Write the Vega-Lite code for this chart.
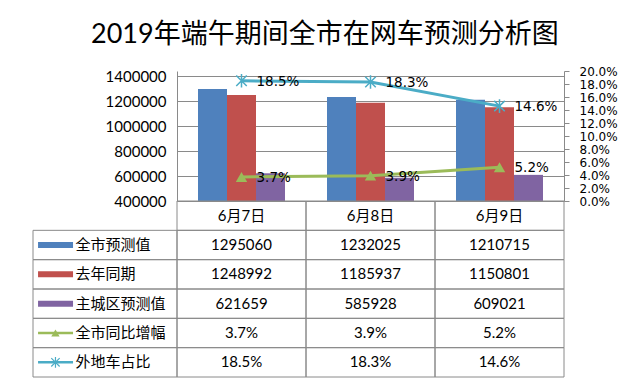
{
  "$schema": "https://vega.github.io/schema/vega-lite/v6.json",
  "background": "white",
  "padding": {"left": 32, "top": 21, "right": 5, "bottom": 5},
  "title": {"text": "2019年端午期间全市在网车预测分析图", "font": "Lato, Noto Sans CJK SC", "fontSize": 27, "fontWeight": "normal", "color": "#000000", "anchor": "middle", "frame": "bounds", "offset": 16},
  "config": {"view": {"stroke": null}, "font": "Lato"},
  "datasets": {
    "d": [
      {"date": "6月7日", "series": "全市预测值", "value": 1295060},
      {"date": "6月8日", "series": "全市预测值", "value": 1232025},
      {"date": "6月9日", "series": "全市预测值", "value": 1210715},
      {"date": "6月7日", "series": "去年同期", "value": 1248992},
      {"date": "6月8日", "series": "去年同期", "value": 1185937},
      {"date": "6月9日", "series": "去年同期", "value": 1150801},
      {"date": "6月7日", "series": "主城区预测值", "value": 621659},
      {"date": "6月8日", "series": "主城区预测值", "value": 585928},
      {"date": "6月9日", "series": "主城区预测值", "value": 609021},
      {"date": "6月7日", "series": "全市同比增幅", "value": 0.037},
      {"date": "6月8日", "series": "全市同比增幅", "value": 0.039},
      {"date": "6月9日", "series": "全市同比增幅", "value": 0.052},
      {"date": "6月7日", "series": "外地车占比", "value": 0.185},
      {"date": "6月8日", "series": "外地车占比", "value": 0.183},
      {"date": "6月9日", "series": "外地车占比", "value": 0.146}
    ],
    "dates": [{"date": "6月7日"}, {"date": "6月8日"}, {"date": "6月9日"}]
  },
  "spacing": 0,
  "bounds": "flush",
  "vconcat": [
    {
      "width": 387,
      "height": 130,
      "data": {"name": "d"},
      "layer": [
        {
          "transform": [{"filter": {"field": "series", "oneOf": ["全市预测值", "去年同期", "主城区预测值"]}}],
          "mark": {"type": "bar"},
          "encoding": {
            "x": {"field": "date", "type": "nominal", "scale": {"paddingInner": 0.3256, "paddingOuter": 0.1628}, "axis": null},
            "xOffset": {"field": "series", "type": "nominal", "scale": {"domain": ["全市预测值", "去年同期", "主城区预测值"], "paddingInner": 0, "paddingOuter": 0}},
            "y": {"field": "value", "type": "quantitative", "scale": {"domain": [400000, 1440000], "nice": false, "zero": false},
              "axis": {"orient": "left", "values": [400000, 600000, 800000, 1000000, 1200000, 1400000], "format": "d", "grid": true, "gridColor": "#8a8a8a", "domainColor": "#8a8a8a", "ticks": false, "labelPadding": 11, "labelFont": "Lato", "labelFontSize": 15, "labelColor": "#000000", "labelOverlap": false, "labelFlush": false, "title": null}},
            "y2": {"datum": 400000},
            "color": {"field": "series", "type": "nominal", "scale": {"domain": ["全市预测值", "去年同期", "主城区预测值", "全市同比增幅", "外地车占比"], "range": ["#4F81BD", "#C0504D", "#8064A2", "#9BBB59", "#4BACC6"]}, "legend": null}
          }
        },
        {
          "transform": [{"filter": {"field": "series", "oneOf": ["全市同比增幅", "外地车占比"]}}],
          "encoding": {
            "x": {"field": "date", "type": "nominal", "axis": null},
            "y": {"field": "value", "type": "quantitative", "scale": {"domain": [0, 0.2], "nice": false},
              "axis": {"orient": "right", "values": [0, 0.02, 0.04, 0.06, 0.08, 0.1, 0.12, 0.14, 0.16, 0.18, 0.2], "format": ".1%", "grid": false, "domainColor": "#8a8a8a", "tickColor": "#8a8a8a", "tickSize": 5, "labelPadding": 10, "labelFont": "DejaVu Sans", "labelFontSize": 12, "labelColor": "#000000", "labelOverlap": false, "labelFlush": false, "title": null}},
            "color": {"field": "series", "type": "nominal", "scale": {"domain": ["全市预测值", "去年同期", "主城区预测值", "全市同比增幅", "外地车占比"], "range": ["#4F81BD", "#C0504D", "#8064A2", "#9BBB59", "#4BACC6"]}, "legend": null}
          },
          "layer": [
            {"mark": {"type": "line", "strokeWidth": 3}},
            {"transform": [{"filter": {"field": "series", "equal": "全市同比增幅"}}], "mark": {"type": "point", "shape": "triangle-up", "filled": true, "size": 130, "opacity": 1}},
            {"transform": [{"filter": {"field": "series", "equal": "外地车占比"}}], "mark": {"type": "point", "shape": "M-1,-1L1,1M-1,1L1,-1M0,-1.3L0,1.3", "filled": false, "size": 110, "strokeWidth": 1.5, "opacity": 1}},
            {"mark": {"type": "text", "align": "left", "baseline": "middle", "dx": 15, "dy": 1, "font": "DejaVu Sans", "fontSize": 13.5}, "encoding": {"text": {"field": "value", "type": "quantitative", "format": ".1%"}, "color": {"value": "#000000"}}}
          ]
        }
      ],
      "resolve": {"scale": {"y": "independent"}}
    },
    {
      "width": 387,
      "height": 176,
      "layer": [
        {
          "layer": [
            {
              "data": {"name": "d"},
              "encoding": {
                "x": {"field": "date", "type": "nominal", "scale": {"paddingInner": 0, "paddingOuter": 0}, "axis": null},
                "y": {"field": "series", "type": "nominal", "scale": {"domain": ["日期", "全市预测值", "去年同期", "主城区预测值", "全市同比增幅", "外地车占比"], "paddingInner": 0, "paddingOuter": 0}, "axis": null}
              },
              "layer": [
                {"mark": {"type": "rect", "fillOpacity": 0, "stroke": "#8a8a8a", "strokeWidth": 1}},
                {"transform": [{"filter": {"field": "series", "oneOf": ["全市预测值", "去年同期", "主城区预测值"]}}], "mark": {"type": "text", "font": "Lato, Noto Sans CJK SC", "fontSize": 15, "color": "#000000"}, "encoding": {"text": {"field": "value", "type": "quantitative", "format": "d"}}},
                {"transform": [{"filter": {"field": "series", "oneOf": ["全市同比增幅", "外地车占比"]}}], "mark": {"type": "text", "font": "Lato, Noto Sans CJK SC", "fontSize": 15, "color": "#000000"}, "encoding": {"text": {"field": "value", "type": "quantitative", "format": ".1%"}}}
              ]
            },
            {
              "data": {"name": "dates"},
              "encoding": {
                "x": {"field": "date", "type": "nominal", "axis": null},
                "y": {"datum": "日期", "type": "nominal", "axis": null}
              },
              "layer": [
                {"mark": {"type": "rect", "fillOpacity": 0, "stroke": "#8a8a8a", "strokeWidth": 1}},
                {"mark": {"type": "text", "font": "Lato, Noto Sans CJK SC", "fontSize": 15, "color": "#000000"}, "encoding": {"text": {"field": "date", "type": "nominal"}}}
              ]
            }
          ]
        },
        {
          "data": {"name": "d"},
          "transform": [{"filter": {"field": "date", "equal": "6月7日"}}],
          "encoding": {
            "y": {"field": "series", "type": "nominal", "axis": null},
            "color": {"field": "series", "type": "nominal", "scale": {"domain": ["全市预测值", "去年同期", "主城区预测值", "全市同比增幅", "外地车占比"], "range": ["#4F81BD", "#C0504D", "#8064A2", "#9BBB59", "#4BACC6"]}, "legend": null}
          },
          "layer": [
            {"mark": {"type": "rect", "fillOpacity": 0, "stroke": "#8a8a8a", "strokeWidth": 1},
             "encoding": {"x": {"datum": 0, "type": "quantitative", "scale": {"domain": [0, 1], "range": [-144, 0], "nice": false, "zero": false}, "axis": null}, "x2": {"datum": 1}, "color": {"value": "#8a8a8a"}}},
            {"transform": [{"filter": {"field": "series", "oneOf": ["全市预测值", "去年同期", "主城区预测值"]}}],
             "mark": {"type": "rule", "strokeWidth": 6},
             "encoding": {"x": {"datum": 0.035, "type": "quantitative", "axis": null}, "x2": {"datum": 0.278}}},
            {"transform": [{"filter": {"field": "series", "oneOf": ["全市同比增幅", "外地车占比"]}}],
             "mark": {"type": "rule", "strokeWidth": 2.5},
             "encoding": {"x": {"datum": 0.035, "type": "quantitative", "axis": null}, "x2": {"datum": 0.278}}},
            {"transform": [{"filter": {"field": "series", "equal": "全市同比增幅"}}],
             "mark": {"type": "point", "shape": "triangle-up", "filled": true, "size": 70, "opacity": 1},
             "encoding": {"x": {"datum": 0.156, "type": "quantitative", "axis": null}}},
            {"transform": [{"filter": {"field": "series", "equal": "外地车占比"}}],
             "mark": {"type": "point", "shape": "M-1,-1L1,1M-1,1L1,-1M0,-1.3L0,1.3", "filled": false, "size": 70, "strokeWidth": 1.2, "opacity": 1},
             "encoding": {"x": {"datum": 0.156, "type": "quantitative", "axis": null}}},
            {"mark": {"type": "text", "align": "left", "baseline": "middle", "font": "Noto Sans CJK SC", "fontSize": 15},
             "encoding": {"x": {"datum": 0.295, "type": "quantitative", "axis": null}, "text": {"field": "series", "type": "nominal"}, "color": {"value": "#000000"}}}
          ]
        }
      ],
      "resolve": {"scale": {"x": "independent"}}
    }
  ]
}
